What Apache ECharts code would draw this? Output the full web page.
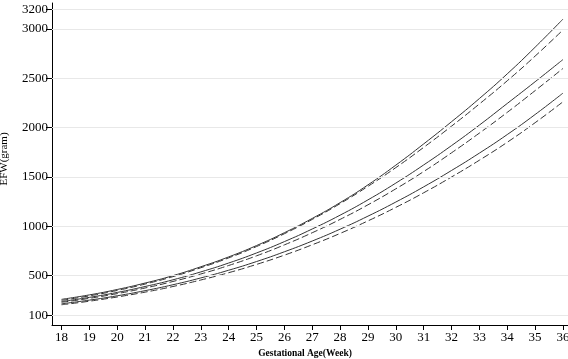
<!DOCTYPE html>
<html><head><meta charset="utf-8">
<script src="https://cdn.jsdelivr.net/npm/echarts@6/dist/echarts.min.js"></script>
<style>html,body{margin:0;padding:0;background:#fff}#c{width:568px;height:359px}</style>
</head><body><div id="c"></div>
<script>
var weeks = [18,19,20,21,22,23,24,25,26,27,28,29,30,31,32,33,34,35,36];
var upperSolid  = [260,305,360,425,500,590,690,805,935,1080,1240,1420,1620,1835,2060,2295,2545,2815,3100];
var upperDashed = [250,295,350,415,490,580,680,795,925,1070,1230,1405,1595,1800,2015,2240,2475,2725,2990];
var midSolid    = [238,280,330,390,458,538,628,730,845,973,1113,1268,1438,1622,1818,2026,2245,2465,2690];
var midDashed   = [230,270,318,375,441,517,603,701,812,935,1070,1218,1380,1555,1745,1945,2155,2375,2600];
var lowSolid    = [215,252,296,348,408,477,555,643,742,851,971,1103,1246,1400,1566,1742,1930,2133,2350];
var lowDashed   = [205,241,284,333,390,456,530,614,708,813,928,1055,1192,1340,1500,1670,1852,2050,2262];
var yTicks = [100,500,1000,1500,2000,2500,3000,3200];
var xTicks = weeks;

function pairs(v){ return weeks.map(function(w,i){ return [w, v[i]]; }); }
function mk(v, dashed){
  return {type:'line', data:pairs(v), smooth:true, showSymbol:false, symbol:'none',
    lineStyle:{color:'#333', width:1, type: dashed ? [7,3] : 'solid'}, z:3, silent:true};
}
var font = '"Liberation Serif","Times New Roman",serif';
var series = [mk(upperSolid,false), mk(upperDashed,true), mk(midSolid,false), mk(midDashed,true), mk(lowSolid,false), mk(lowDashed,true)];
series.push({type:'line', data:[], silent:true, z:1,
  markLine:{silent:true, symbol:'none', animation:false, label:{show:false},
    lineStyle:{color:'#e8e8e8', width:1, type:'solid'},
    data: yTicks.map(function(v){ return {yAxis:v}; })}});
var chart = echarts.init(document.getElementById('c'), null, {renderer:'canvas'});
chart.setOption({
  animation:false,
  grid:{left:52, right:0, top:3, bottom:34, containLabel:false, outerBoundsMode:'none'},
  xAxis:{type:'value', min:17.659, max:36.18,
    name:'Gestational Age(Week)', nameLocation:'middle', nameGap:23,
    nameTextStyle:{fontFamily:font, fontSize:9.5, color:'#000', fontWeight:'bold', padding:[0,10,0,0]},
    axisLine:{show:true, onZero:false, lineStyle:{color:'#000', width:1}},
    axisTick:{show:true, length:5, inside:false, customValues:xTicks, lineStyle:{color:'#000'}},
    axisLabel:{customValues:xTicks, fontFamily:font, fontSize:13, color:'#000', margin:6,
      formatter:function(v){ return String(v); }},
    splitLine:{show:false}},
  yAxis:{type:'value', min:0, max:3263,
    name:'EFW(gram)', nameLocation:'middle', nameGap:42,
    nameTextStyle:{fontFamily:font, fontSize:11, color:'#000', padding:[0,0,0,10]},
    axisLine:{show:true, onZero:false, lineStyle:{color:'#000', width:1}},
    axisTick:{show:true, length:6, customValues:yTicks, lineStyle:{color:'#000'}},
    axisLabel:{customValues:yTicks, fontFamily:font, fontSize:13, color:'#000', margin:4,
      formatter:function(v){ return String(v); }},
    splitLine:{show:false}},
  series: series
});
</script></body></html>
